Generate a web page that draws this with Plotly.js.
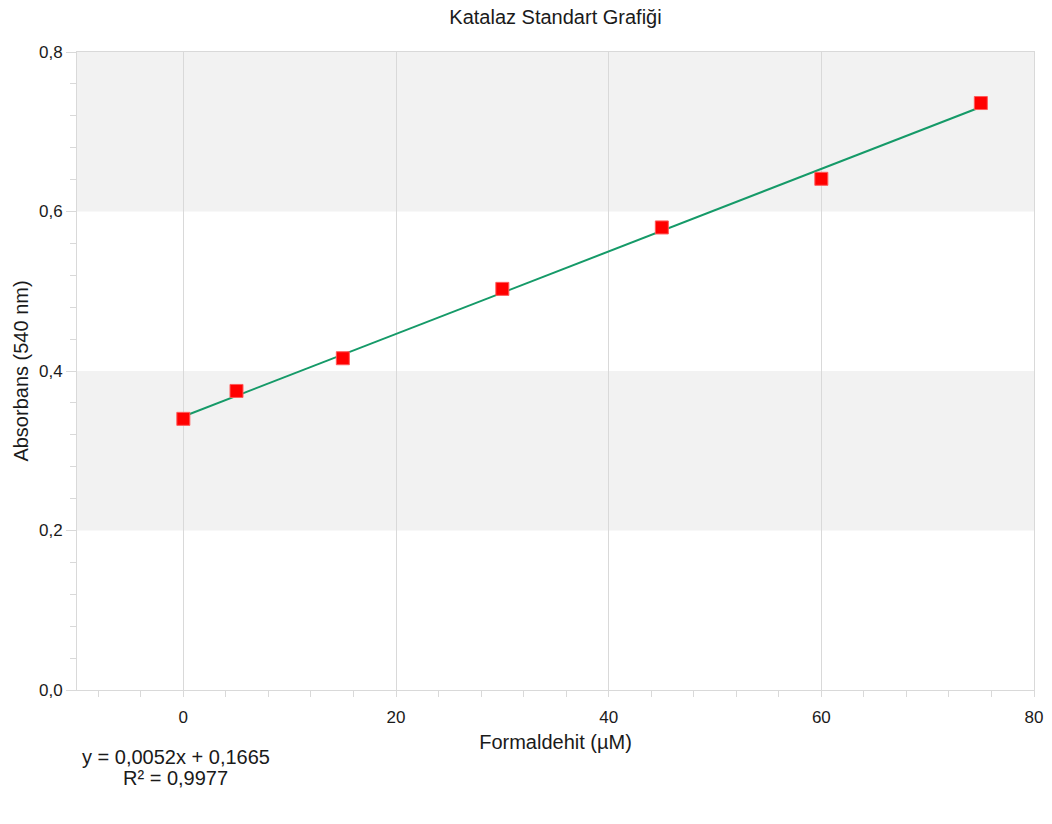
<!DOCTYPE html>
<html>
<head>
<meta charset="utf-8">
<script src="https://cdn.plot.ly/plotly-3.0.1.min.js"></script>
<style>html,body{margin:0;padding:0;background:#fff;}#chart{width:1052px;height:824px;}</style>
</head>
<body>
<div id="chart"></div>
<script>
const formaldehit = [0, 5, 15, 30, 45, 60, 75];
const absorbans = [0.340, 0.375, 0.416, 0.503, 0.580, 0.641, 0.736];
const trendX = [0, 75];
const trendY = [0.343, 0.731];
const chartTitle = 'Katalaz Standart Grafiği';
const xTitle = 'Formaldehit (µM)';
const yTitle = 'Absorbans (540 nm)';
const equationLine = 'y = 0,0052x + 0,1665';
const r2Line = 'R² = 0,9977';

const fam = "'Liberation Sans', Arial, sans-serif";
const txt = '#1a1a1a';
const grid = '#d9d9d9';

const traces = [
  {x: trendX, y: trendY, mode: 'lines', line: {color: '#159a68', width: 2}, hoverinfo: 'skip', showlegend: false},
  {x: formaldehit, y: absorbans, mode: 'markers', marker: {symbol: 'square', size: 13, color: '#ff0000', line: {color: '#ff5a5a', width: 1}}, showlegend: false}
];

const layout = {
  width: 1052, height: 824,
  margin: {l: 77, r: 18, t: 52, b: 134},
  paper_bgcolor: '#fff', plot_bgcolor: '#fff',
  separators: ',.',
  font: {family: fam, size: 17, color: txt},
  title: {text: chartTitle, font: {family: fam, size: 20, color: txt}, x: 0.5, xref: 'paper', y: 0.979, yref: 'container', yanchor: 'middle'},
  xaxis: {
    range: [-10, 80], tick0: 0, dtick: 20, showgrid: true, gridcolor: grid, gridwidth: 1,
    zeroline: false, showline: true, linecolor: grid, mirror: true,
    ticks: 'outside', ticklen: 6, tickcolor: grid, ticklabelstandoff: 6,
    minor: {dtick: 4, tick0: 0, ticks: 'outside', ticklen: 6, tickcolor: grid, showgrid: false},
    tickfont: {family: fam, size: 17, color: txt},
    title: {text: xTitle, font: {family: fam, size: 20, color: txt}, standoff: 8}
  },
  yaxis: {
    range: [0, 0.8], dtick: 0.2, tick0: 0, tickformat: '.1f', showgrid: false,
    zeroline: false, showline: true, linecolor: grid, mirror: true,
    ticks: 'outside', ticklen: 10, tickcolor: grid,
    minor: {dtick: 0.04, tick0: 0, ticks: 'outside', ticklen: 6, tickcolor: grid, showgrid: false},
    tickfont: {family: fam, size: 17, color: txt},
    title: {text: yTitle, font: {family: fam, size: 20, color: txt}, standoff: 4}
  },
  shapes: [
    {type: 'rect', xref: 'paper', yref: 'y', x0: 0, x1: 1, y0: 0.6, y1: 0.8, fillcolor: '#f2f2f2', line: {width: 0}, layer: 'below'},
    {type: 'rect', xref: 'paper', yref: 'y', x0: 0, x1: 1, y0: 0.2, y1: 0.4, fillcolor: '#f2f2f2', line: {width: 0}, layer: 'below'}
  ],
  annotations: [
    {text: equationLine, xref: 'paper', yref: 'paper', x: 0.1034, y: -0.105, xanchor: 'center', yanchor: 'middle', showarrow: false,
     font: {family: fam, size: 20, color: txt}},
    {text: r2Line, xref: 'paper', yref: 'paper', x: 0.1034, y: -0.138, xanchor: 'center', yanchor: 'middle', showarrow: false,
     font: {family: fam, size: 20, color: txt}}
  ]
};

Plotly.newPlot('chart', traces, layout, {displayModeBar: false, staticPlot: true});
</script>
</body>
</html>
